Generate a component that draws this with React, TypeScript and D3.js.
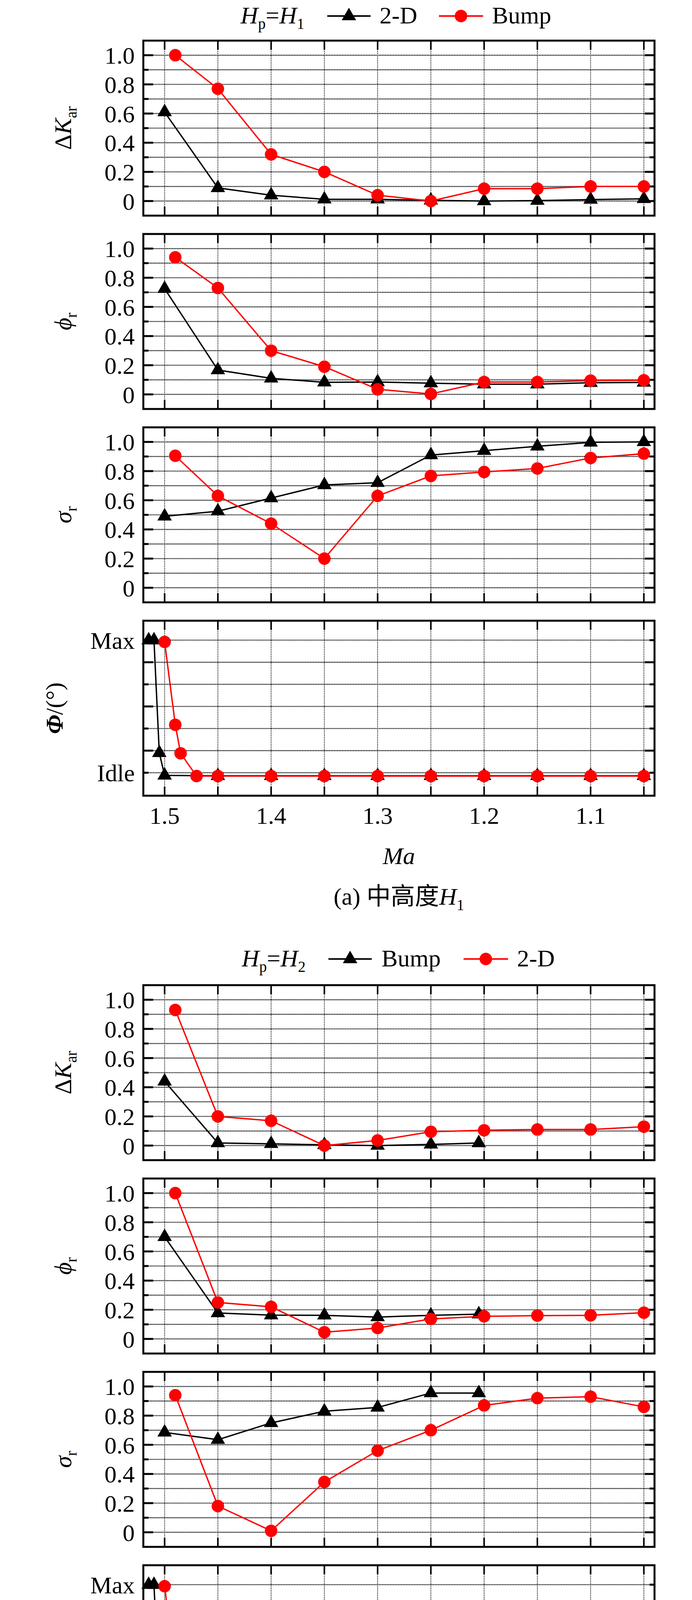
import React, { useEffect, useRef } from 'react';
import * as d3 from 'd3';

// Mach number positions
const maGrid = [1.5, 1.45, 1.4, 1.35, 1.3, 1.25, 1.2, 1.15, 1.1, 1.05];
const maTickLabels = [1.5, 1.4, 1.3, 1.2, 1.1];
const maShifted = [1.49, 1.45, 1.4, 1.35, 1.3, 1.25, 1.2, 1.15, 1.1, 1.05];
const maShort = [1.5, 1.45, 1.4, 1.35, 1.3, 1.25, 1.205];
const maPhiBlack = [1.515, 1.51, 1.505, 1.5, 1.45, 1.4, 1.35, 1.3, 1.25, 1.2, 1.15, 1.1, 1.05];
const maPhiRed = [1.5, 1.49, 1.485, 1.47, 1.45, 1.4, 1.35, 1.3, 1.25, 1.2, 1.15, 1.1, 1.05];

// (a) H1 : black = 2-D, red = Bump
const karA2D = [0.61, 0.09, 0.04, 0.012, 0.012, 0.005, 0.0, 0.003, 0.01, 0.015];
const karABump = [1.0, 0.77, 0.32, 0.2, 0.04, 0.0, 0.085, 0.085, 0.1, 0.1];
const phiA2D = [0.725, 0.167, 0.11, 0.083, 0.085, 0.077, 0.07, 0.07, 0.08, 0.082];
const phiABump = [0.94, 0.73, 0.3, 0.19, 0.035, 0.003, 0.085, 0.085, 0.095, 0.097];
const sigA2D = [0.49, 0.525, 0.615, 0.705, 0.72, 0.91, 0.94, 0.97, 0.997, 1.0];
const sigABump = [0.905, 0.63, 0.44, 0.2, 0.63, 0.767, 0.794, 0.818, 0.89, 0.92];
// nozzle angle, Idle = 0, Max = 6
const angA2D = [6, 6, 0.9, -0.12, -0.14, -0.14, -0.14, -0.14, -0.14, -0.14, -0.14, -0.14, -0.14];
const angABump = [5.92, 2.17, 0.88, -0.15, -0.15, -0.15, -0.15, -0.15, -0.15, -0.15, -0.15, -0.15, -0.15];

// (b) H2 : black = Bump, red = 2-D
const karBBump = [0.44, 0.018, 0.012, 0.005, 0.0, 0.008, 0.018];
const karB2D = [0.93, 0.2, 0.17, 0.0, 0.035, 0.095, 0.105, 0.11, 0.11, 0.13];
const phiBBump = [0.7, 0.178, 0.163, 0.162, 0.15, 0.162, 0.17];
const phiB2D = [1.0, 0.25, 0.22, 0.046, 0.075, 0.137, 0.155, 0.16, 0.162, 0.18];
const sigBBump = [0.685, 0.635, 0.75, 0.83, 0.856, 0.955, 0.955];
const sigB2D = [0.94, 0.18, 0.01, 0.345, 0.56, 0.7, 0.87, 0.92, 0.93, 0.86];
const angBBump = [6, 6, 0.88, -0.12, -0.14, -0.14, -0.14, -0.14, -0.14, -0.14, -0.14, -0.14, -0.14];
const angB2D = [5.93, 2.15, 0.86, -0.15, -0.15, -0.15, -0.15, -0.15, -0.15, -0.15, -0.15, -0.15, -0.15];

const W = 1772;
const H = 4768;
const FONT = "'Liberation Serif', 'Times New Roman', 'Noto Sans CJK SC', serif";
const FS = 62;
const SUB = 39;
const RED = '#ff0000';

const plotLeft = 367;
const plotRight = 1676;
const panelH = 448;
const panelPitch = 495;

type Part = { t: string; i?: boolean; sub?: boolean; b?: boolean };
type Series = { x: number[]; y: number[] };
type PanelSpec = { kind: 'num' | 'phi'; label: Part[]; black: Series; red: Series };
type FigSpec = {
  top: number;
  legendY: number;
  hp: string;
  legend: { labelX: number; l1: [number, number]; t1x: number; l2: [number, number]; t2x: number };
  blackName: string;
  redName: string;
  caption: string;
  captionSub: string;
  panels: PanelSpec[];
};

const rich = (text: d3.Selection<SVGTextElement, unknown, null, undefined>, parts: Part[]) => {
  let shifted = false;
  parts.forEach((p) => {
    const ts = text.append('tspan').text(p.t);
    if (p.i) ts.attr('font-style', 'italic');
    if (p.b) ts.attr('font-weight', 'bold');
    if (p.sub) {
      ts.attr('font-size', SUB);
      if (!shifted) ts.attr('dy', 14);
      shifted = true;
    } else if (shifted) {
      ts.attr('dy', -14);
      shifted = false;
    }
  });
};

const xScale = d3.scaleLinear().domain([1.52, 1.04]).range([plotLeft, plotRight]);
const triangle = d3.symbol().type(d3.symbolTriangle).size(593);

const drawPanel = (svg: d3.Selection<SVGSVGElement, unknown, null, undefined>, top: number, spec: PanelSpec, showX: boolean) => {
  const y = d3
    .scaleLinear()
    .domain(spec.kind === 'phi' ? [-1.04, 6.88] : [-0.1, 1.1])
    .range([top + panelH, top]);
  const g = svg.append('g');

  const hGrid = spec.kind === 'phi' ? d3.range(0, 7) : d3.range(0, 11).map((i) => i / 10);
  g.selectAll('line.hg')
    .data(hGrid)
    .join('line')
    .attr('x1', plotLeft)
    .attr('x2', plotRight)
    .attr('y1', (d) => y(d))
    .attr('y2', (d) => y(d))
    .attr('stroke', '#000')
    .attr('stroke-width', 2.6)
    .attr('stroke-dasharray', '2.5,1.6');

  g.selectAll('line.vg')
    .data(maGrid)
    .join('line')
    .attr('x1', (d) => xScale(d))
    .attr('x2', (d) => xScale(d))
    .attr('y1', top)
    .attr('y2', top + panelH)
    .attr('stroke', '#000')
    .attr('stroke-width', 1.8)
    .attr('stroke-dasharray', '2.5,2');

  // x ticks, inward on top and bottom
  maGrid.forEach((d) => {
    [
      [top, top + 23],
      [top + panelH, top + panelH - 23],
    ].forEach(([a, b]) => {
      g.append('line')
        .attr('x1', xScale(d))
        .attr('x2', xScale(d))
        .attr('y1', a)
        .attr('y2', b)
        .attr('stroke', '#000')
        .attr('stroke-width', 4);
    });
  });

  // y ticks
  const major = spec.kind === 'phi' ? [1, 3, 5] : d3.range(0, 6).map((i) => i / 5);
  const minor = spec.kind === 'phi' ? [0, 2, 4, 6] : [0.1, 0.3, 0.5, 0.7, 0.9];
  const yTick = (v: number, len: number) => {
    g.append('line').attr('x1', plotLeft).attr('x2', plotLeft + len).attr('y1', y(v)).attr('y2', y(v)).attr('stroke', '#000').attr('stroke-width', 5);
    g.append('line').attr('x1', plotRight).attr('x2', plotRight - len).attr('y1', y(v)).attr('y2', y(v)).attr('stroke', '#000').attr('stroke-width', 5);
  };
  major.forEach((v) => yTick(v, 25));
  minor.forEach((v) => yTick(v, 13));

  // y tick labels
  const labels: [number, string][] =
    spec.kind === 'phi'
      ? [
          [6, 'Max'],
          [0, 'Idle'],
        ]
      : d3.range(0, 6).map((i) => [i / 5, i === 0 ? '0' : (i / 5).toFixed(1)]);
  labels.forEach(([v, t]) => {
    g.append('text')
      .attr('x', 345)
      .attr('y', y(v) + 22)
      .attr('text-anchor', 'end')
      .attr('font-family', FONT)
      .attr('font-size', FS)
      .text(t);
  });

  // y axis title
  const lx = spec.kind === 'phi' ? 160 : 182;
  const lt = g
    .append('text')
    .attr('transform', `translate(${lx}, ${top + panelH / 2}) rotate(-90)`)
    .attr('text-anchor', 'middle')
    .attr('font-family', FONT)
    .attr('font-size', FS);
  rich(lt, spec.label);

  const line = d3
    .line<[number, number]>()
    .x((d) => xScale(d[0]))
    .y((d) => y(d[1]));

  const blackPts = spec.black.x.map((v, i) => [v, spec.black.y[i]] as [number, number]);
  const redPts = spec.red.x.map((v, i) => [v, spec.red.y[i]] as [number, number]);

  g.append('path').attr('d', line(blackPts) || '').attr('fill', 'none').attr('stroke', '#000').attr('stroke-width', 3.5);
  g.selectAll('path.tri')
    .data(blackPts)
    .join('path')
    .attr('class', 'tri')
    .attr('d', triangle() || '')
    .attr('transform', (d) => `translate(${xScale(d[0])}, ${y(d[1])})`)
    .attr('fill', '#000');

  g.append('path').attr('d', line(redPts) || '').attr('fill', 'none').attr('stroke', RED).attr('stroke-width', 3.5);
  g.selectAll('circle.dot')
    .data(redPts)
    .join('circle')
    .attr('class', 'dot')
    .attr('cx', (d) => xScale(d[0]))
    .attr('cy', (d) => y(d[1]))
    .attr('r', 16)
    .attr('fill', RED);

  g.append('rect')
    .attr('x', plotLeft)
    .attr('y', top)
    .attr('width', plotRight - plotLeft)
    .attr('height', panelH)
    .attr('fill', 'none')
    .attr('stroke', '#000')
    .attr('stroke-width', 5);

  if (showX) {
    maTickLabels.forEach((d) => {
      g.append('text')
        .attr('x', xScale(d))
        .attr('y', top + panelH + 72)
        .attr('text-anchor', 'middle')
        .attr('font-family', FONT)
        .attr('font-size', FS)
        .text(String(d));
    });
  }
};

const drawFigure = (svg: d3.Selection<SVGSVGElement, unknown, null, undefined>, fig: FigSpec) => {
  const base = fig.legendY;
  const lg = fig.legend;

  const t0 = svg.append('text').attr('x', lg.labelX).attr('y', base).attr('font-family', FONT).attr('font-size', FS);
  rich(t0, [{ t: 'H', i: true }, { t: 'p', sub: true }, { t: '=' }, { t: 'H', i: true }, { t: fig.hp, sub: true }]);

  const ly = base - 19;
  svg.append('line').attr('x1', lg.l1[0]).attr('x2', lg.l1[1]).attr('y1', ly).attr('y2', ly).attr('stroke', '#000').attr('stroke-width', 4);
  svg
    .append('path')
    .attr('d', triangle() || '')
    .attr('transform', `translate(${(lg.l1[0] + lg.l1[1]) / 2}, ${ly})`)
    .attr('fill', '#000');
  svg.append('text').attr('x', lg.t1x).attr('y', base).attr('font-family', FONT).attr('font-size', FS).text(fig.blackName);

  svg.append('line').attr('x1', lg.l2[0]).attr('x2', lg.l2[1]).attr('y1', ly).attr('y2', ly).attr('stroke', RED).attr('stroke-width', 4);
  svg
    .append('circle')
    .attr('cx', (lg.l2[0] + lg.l2[1]) / 2)
    .attr('cy', ly)
    .attr('r', 16)
    .attr('fill', RED);
  svg.append('text').attr('x', lg.t2x).attr('y', base).attr('font-family', FONT).attr('font-size', FS).text(fig.redName);

  fig.panels.forEach((p, i) => drawPanel(svg, fig.top + i * panelPitch, p, i === fig.panels.length - 1));

  const lastBottom = fig.top + 3 * panelPitch + panelH;
  svg
    .append('text')
    .attr('x', (plotLeft + plotRight) / 2)
    .attr('y', lastBottom + 175)
    .attr('text-anchor', 'middle')
    .attr('font-family', FONT)
    .attr('font-size', FS)
    .attr('font-style', 'italic')
    .text('Ma');

  const cap = svg
    .append('text')
    .attr('x', (plotLeft + plotRight) / 2)
    .attr('y', lastBottom + 279)
    .attr('text-anchor', 'middle')
    .attr('font-family', FONT)
    .attr('font-size', FS);
  rich(cap, [{ t: fig.caption }, { t: 'H', i: true }, { t: fig.captionSub, sub: true }]);
};

const karLabel: Part[] = [{ t: 'Δ' }, { t: 'K', i: true }, { t: 'ar', sub: true }];
const phiLabel: Part[] = [{ t: 'ϕ', i: true }, { t: 'r', sub: true }];
const sigLabel: Part[] = [{ t: 'σ', i: true }, { t: 'r', sub: true }];
const angLabel: Part[] = [{ t: 'Φ', i: true, b: true }, { t: '/(°)' }];

const figures: FigSpec[] = [
  {
    top: 104,
    legendY: 60,
    hp: '1',
    legend: { labelX: 616, l1: [838, 949], t1x: 972, l2: [1124, 1237], t2x: 1260 },
    blackName: '2-D',
    redName: 'Bump',
    caption: '(a) 中高度',
    captionSub: '1',
    panels: [
      { kind: 'num', label: karLabel, black: { x: maGrid, y: karA2D }, red: { x: maShifted, y: karABump } },
      { kind: 'num', label: phiLabel, black: { x: maGrid, y: phiA2D }, red: { x: maShifted, y: phiABump } },
      { kind: 'num', label: sigLabel, black: { x: maGrid, y: sigA2D }, red: { x: maShifted, y: sigABump } },
      { kind: 'phi', label: angLabel, black: { x: maPhiBlack, y: angA2D }, red: { x: maPhiRed, y: angABump } },
    ],
  },
  {
    top: 2522,
    legendY: 2474,
    hp: '2',
    legend: { labelX: 619, l1: [841, 952], t1x: 977, l2: [1187, 1301], t2x: 1324 },
    blackName: 'Bump',
    redName: '2-D',
    caption: '(b) 高高度',
    captionSub: '2',
    panels: [
      { kind: 'num', label: karLabel, black: { x: maShort, y: karBBump }, red: { x: maShifted, y: karB2D } },
      { kind: 'num', label: phiLabel, black: { x: maShort, y: phiBBump }, red: { x: maShifted, y: phiB2D } },
      { kind: 'num', label: sigLabel, black: { x: maShort, y: sigBBump }, red: { x: maShifted, y: sigB2D } },
      { kind: 'phi', label: angLabel, black: { x: maPhiBlack, y: angBBump }, red: { x: maPhiRed, y: angB2D } },
    ],
  },
];

const App: React.FC = () => {
  const svgRef = useRef<SVGSVGElement>(null);

  useEffect(() => {
    document.body.style.margin = '0';
    if (!svgRef.current) return;
    const svg = d3.select(svgRef.current);
    svg.selectAll('*').remove();
    svg.append('rect').attr('width', W).attr('height', H).attr('fill', '#fff');
    figures.forEach((f) => drawFigure(svg, f));
  }, []);

  return <svg ref={svgRef} width={W} height={H} style={{ display: 'block' }} />;
};

export default App;
